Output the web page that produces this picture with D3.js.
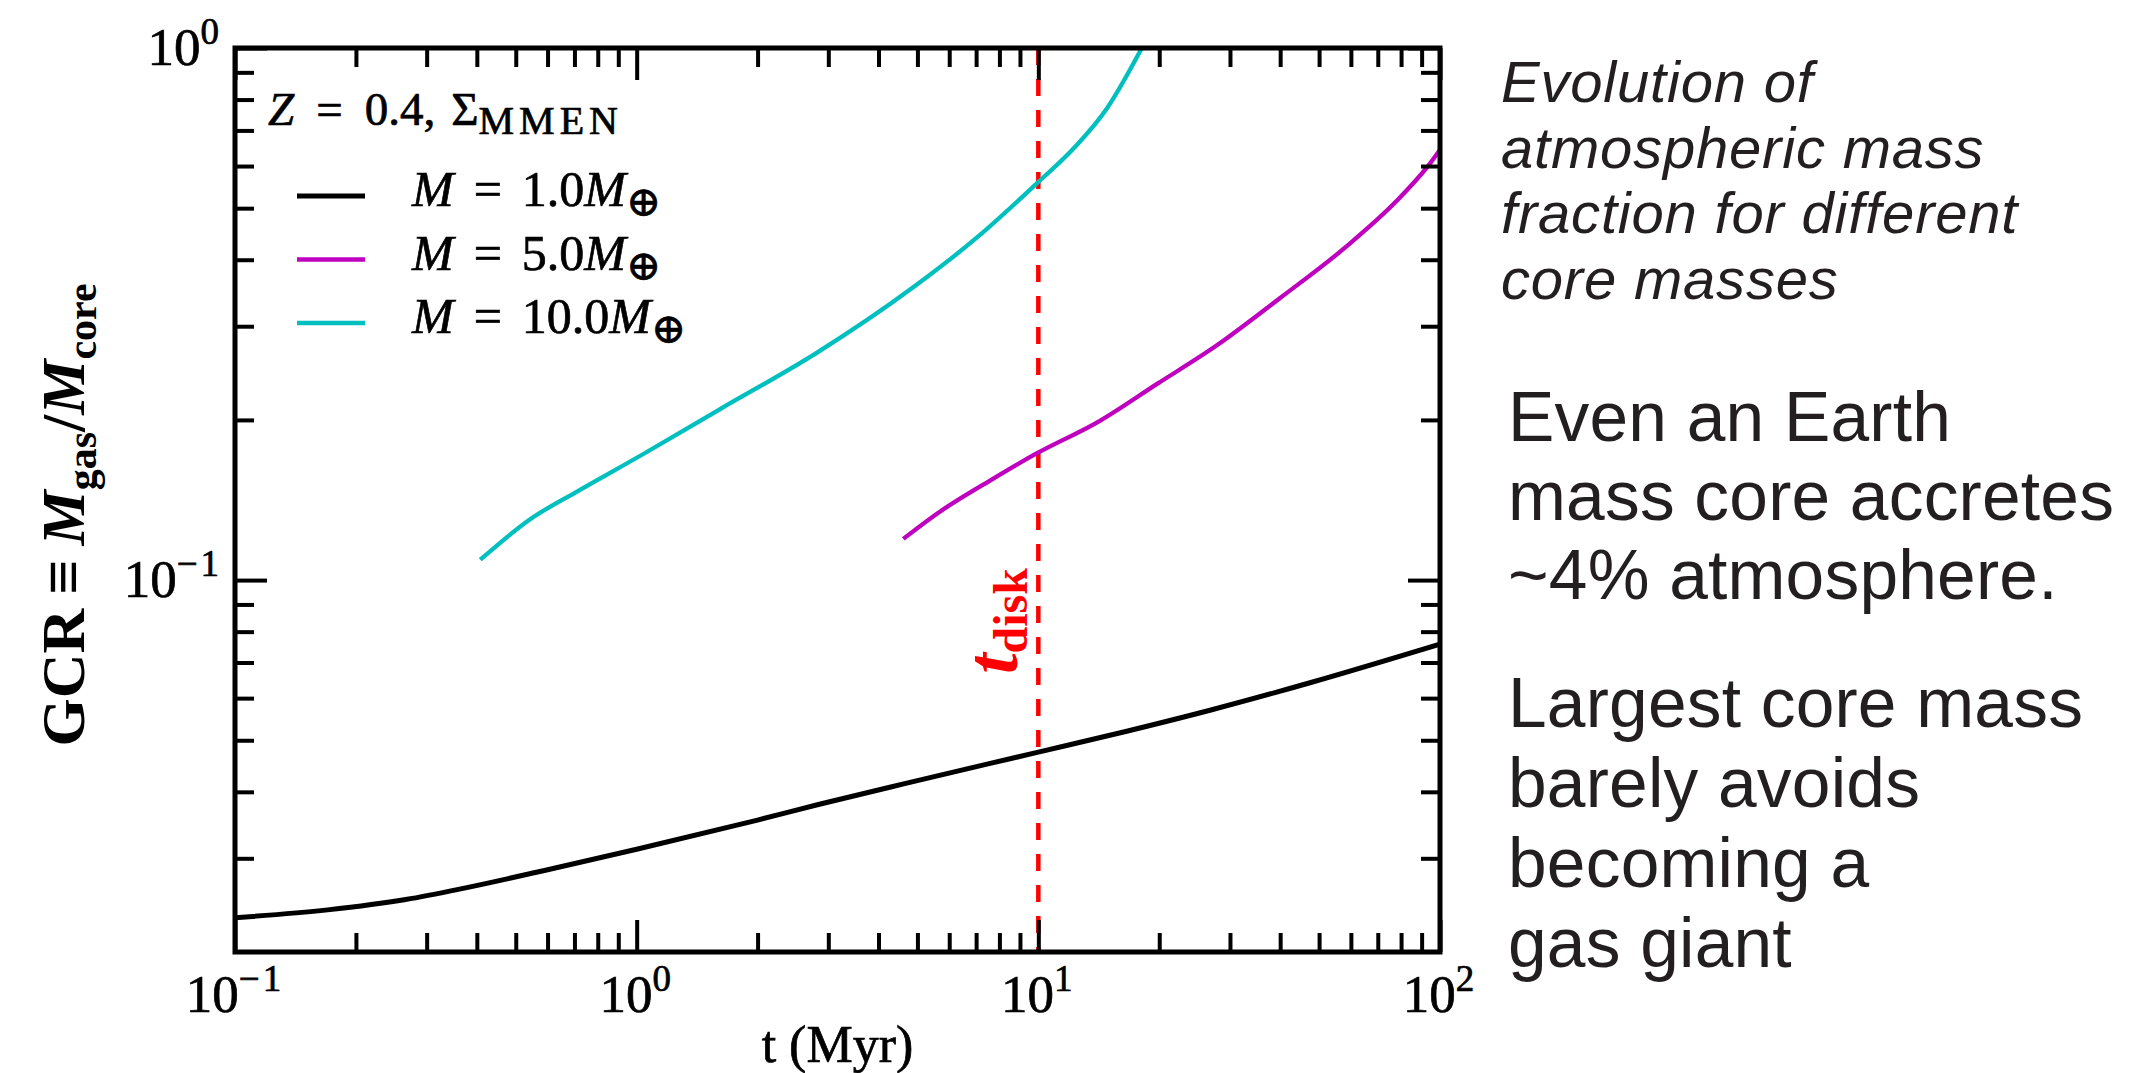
<!DOCTYPE html>
<html>
<head>
<meta charset="utf-8">
<script src="https://cdn.jsdelivr.net/npm/d3@7"></script>
<style>
body { margin: 0; background: #fff; }
svg { display: block; }
</style>
</head>
<body>
<script>
// values (t in Myr, GCR dimensionless)
var tOne = [0.1, 0.17, 0.266, 0.375, 0.582, 1.0, 2.0, 2.85, 4.62, 10, 16.6, 26.9, 47.7, 100];
var gcrOne = [0.0232, 0.0240, 0.0251, 0.0264, 0.0284, 0.0312, 0.0354, 0.0379, 0.0414, 0.0475, 0.0520, 0.0570, 0.0642, 0.0758];

var tFive = [4.61, 5.65, 7.60, 9.9, 14.2, 19.8, 27.6, 40.0, 57.9, 77.8, 93.5, 100];
var gcrFive = [0.1195, 0.134, 0.154, 0.173, 0.199, 0.234, 0.275, 0.339, 0.421, 0.515, 0.601, 0.644];

var tTen = [0.408, 0.542, 0.714, 1.034, 1.61, 2.80, 4.88, 7.05, 9.9, 12.3, 14.8, 18.1];
var gcrTen = [0.1092, 0.130, 0.147, 0.1722, 0.2094, 0.267, 0.355, 0.441, 0.556, 0.650, 0.769, 1.0];

var seriesNames = ["1.0", "5.0", "10.0"];
var seriesColors = ["#000000", "#bf00bf", "#00bfbf"];

var tDisk = 10;

var xMajor = [0.1, 1, 10, 100];
var xMajorExp = ["\u22121", "0", "1", "2"];
var yMajor = [0.1, 1];
var yMajorExp = ["\u22121", "0"];

var noteTop = ["Evolution of", "atmospheric mass", "fraction for different", "core masses"];
var noteOne = ["Even an Earth", "mass core accretes", "~4% atmosphere."];
var noteTwo = ["Largest core mass", "barely avoids", "becoming a", "gas giant"];

// Define Margin
var width = 2135, height = 1073;
var plot = {left: 235, right: 1440, top: 48, bottom: 952};

var svg = d3.select("body")
    .append("svg")
    .attr("width", width)
    .attr("height", height);

var x = d3.scaleLog().domain([0.1, 100]).range([plot.left, plot.right]);
var y = d3.scaleLog().domain([0.02, 1]).range([plot.bottom, plot.top]);

// minor ticks 2..9 per decade
var xMinor = [];
[0.1, 1, 10].forEach(function(d) {
    for (var k = 2; k <= 9; k++) xMinor.push(d * k);
});
var yMinor = [];
[0.01, 0.1].forEach(function(d) {
    for (var k = 2; k <= 9; k++) if (d * k > 0.02) yMinor.push(d * k);
});

var serif = "'Liberation Serif', 'DejaVu Serif', serif";
var sans = "'Liberation Sans', Arial, sans-serif";

svg.append("defs").append("clipPath").attr("id", "clip")
    .append("rect")
    .attr("x", plot.left).attr("y", plot.top)
    .attr("width", plot.right - plot.left)
    .attr("height", plot.bottom - plot.top);

// curves
var line = d3.line()
    .curve(d3.curveMonotoneX)
    .x(function(d) { return x(d[0]); })
    .y(function(d) { return y(d[1]); });

var series = [
    d3.zip(tOne, gcrOne),
    d3.zip(tFive, gcrFive),
    d3.zip(tTen, gcrTen)
];
var widths = [5, 4.3, 4.3];

var curves = svg.append("g").attr("clip-path", "url(#clip)");

curves.append("line")
    .attr("x1", x(tDisk)).attr("x2", x(tDisk))
    .attr("y1", plot.top).attr("y2", plot.bottom)
    .attr("stroke", "#ff0000")
    .attr("stroke-width", 4.5)
    .attr("stroke-dasharray", "17,14");

curves.selectAll("path.series")
    .data(series)
    .enter().append("path")
        .attr("class", "series")
        .attr("fill", "none")
        .attr("stroke", function(d, i) { return seriesColors[i]; })
        .attr("stroke-width", function(d, i) { return widths[i]; })
        .attr("stroke-linejoin", "round")
        .attr("d", line);

// axes, ticks pointing inward on all four sides
function ticks(axis, tx, ty, vals, size) {
    var g = svg.append("g")
        .attr("transform", "translate(" + tx + "," + ty + ")")
        .call(axis.tickValues(vals).tickSize(-size).tickFormat(""));
    g.select(".domain").remove();
    g.selectAll("line").attr("stroke", "#000").attr("stroke-width", 4);
}
ticks(d3.axisBottom(x), 0, plot.bottom, xMajor, 32);
ticks(d3.axisBottom(x), 0, plot.bottom, xMinor, 19);
ticks(d3.axisTop(x), 0, plot.top, xMajor, 32);
ticks(d3.axisTop(x), 0, plot.top, xMinor, 19);
ticks(d3.axisLeft(y), plot.left, 0, yMajor, 32);
ticks(d3.axisLeft(y), plot.left, 0, yMinor, 19);
ticks(d3.axisRight(y), plot.right, 0, yMajor, 32);
ticks(d3.axisRight(y), plot.right, 0, yMinor, 19);

svg.append("rect")
    .attr("x", plot.left).attr("y", plot.top)
    .attr("width", plot.right - plot.left)
    .attr("height", plot.bottom - plot.top)
    .attr("fill", "none")
    .attr("stroke", "#000")
    .attr("stroke-width", 5);

// tick labels 10^n
function power(sel, exp) {
    sel.append("tspan").text("10");
    sel.append("tspan").attr("dy", -21).attr("font-size", 37)
        .attr("letter-spacing", 3).text(exp);
}
function mathText(sel) {
    sel.attr("font-family", serif).attr("fill", "#000")
        .attr("stroke", "#000").attr("stroke-width", 0.7);
}
xMajor.forEach(function(v, i) {
    svg.append("text")
        .attr("x", x(v)).attr("y", 1012)
        .attr("text-anchor", "middle")
        .attr("font-size", 53)
        .call(mathText)
        .call(power, xMajorExp[i]);
});
yMajor.forEach(function(v, i) {
    svg.append("text")
        .attr("x", plot.left - 13).attr("y", y(v) + 17)
        .attr("text-anchor", "end")
        .attr("font-size", 53)
        .call(mathText)
        .call(power, yMajorExp[i]);
});

// axis labels
svg.append("text")
    .attr("x", (plot.left + plot.right) / 2).attr("y", 1062)
    .attr("text-anchor", "middle")
    .attr("font-size", 52)
    .call(mathText)
    .text("t (Myr)");

var yl = svg.append("text")
    .attr("transform", "translate(84,515) rotate(-90)")
    .attr("text-anchor", "middle")
    .attr("font-family", serif).attr("font-size", 62).attr("font-weight", "bold");
yl.append("tspan").text("GCR");
yl.append("tspan").attr("dx", 14).text("\u2261");
yl.append("tspan").attr("dx", 14).attr("font-style", "italic").text("M");
yl.append("tspan").attr("font-size", 42).attr("dy", 12).text("gas");
yl.append("tspan").attr("dy", -12).text("/");
yl.append("tspan").attr("font-style", "italic").text("M");
yl.append("tspan").attr("font-size", 42).attr("dy", 12).text("core");

// t_disk label
var td = svg.append("text")
    .attr("transform", "translate(" + (x(tDisk) - 21) + ",674) rotate(-90)")
    .attr("font-family", serif).attr("font-weight", "bold")
    .attr("fill", "#ff0000");
td.append("tspan").attr("font-size", 74).attr("font-style", "italic").text("t");
td.append("tspan").attr("font-size", 48).attr("dy", 10).text("disk");

// legend
var lh = svg.append("text")
    .attr("x", 268).attr("y", 125)
    .attr("font-size", 47)
    .call(mathText);
lh.append("tspan").attr("font-style", "italic").text("Z");
lh.append("tspan").attr("dx", 22).text("=");
lh.append("tspan").attr("dx", 22).text("0.4,");
lh.append("tspan").attr("dx", 16).text("\u03A3");
lh.append("tspan").attr("font-size", 40).attr("dy", 9)
    .attr("letter-spacing", 5).text("MMEN");

var legend = svg.append("g");
seriesNames.forEach(function(name, i) {
    var ly = 196 + i * 63.5;
    legend.append("line")
        .attr("x1", 297).attr("x2", 365)
        .attr("y1", ly).attr("y2", ly)
        .attr("stroke", seriesColors[i])
        .attr("stroke-width", widths[i]);
    var t = legend.append("text")
        .attr("x", 412).attr("y", ly + 10)
        .attr("font-size", 50)
        .call(mathText);
    t.append("tspan").attr("font-style", "italic").text("M");
    t.append("tspan").attr("dx", 20).text("=");
    t.append("tspan").attr("dx", 20).text(name);
    t.append("tspan").attr("font-style", "italic").text("M");
    t.append("tspan").attr("font-size", 42).attr("dy", 10).text("\u2295");
});

// notes on the right, one text block each
function note(lines, x0, y0, step, size, italic, spacing) {
    var t = svg.append("text")
        .attr("x", x0).attr("y", y0)
        .attr("font-family", sans).attr("font-size", size)
        .attr("font-style", italic ? "italic" : "normal")
        .attr("letter-spacing", spacing)
        .attr("fill", "#231f20");
    lines.forEach(function(s, i) {
        t.append("tspan")
            .attr("x", x0)
            .attr("dy", i === 0 ? 0 : step)
            .text(s);
    });
}
note(noteTop, 1501, 102, 65.5, 58, true, 0.8);
note(noteOne, 1508, 441, 79, 69.5, false, 0.2);
note(noteTwo, 1508, 727, 80, 69.5, false, 0.2);
</script>
</body>
</html>
